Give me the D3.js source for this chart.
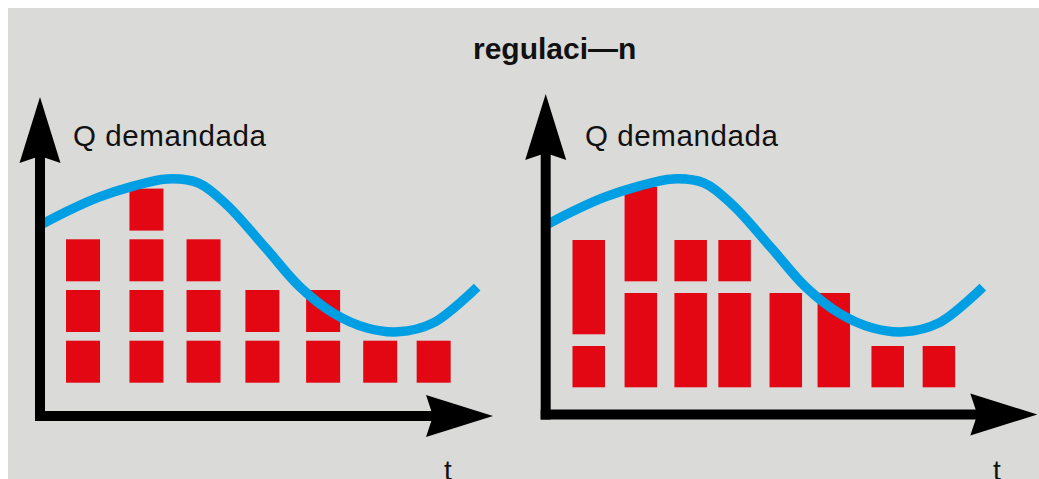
<!DOCTYPE html>
<html>
<head>
<meta charset="utf-8">
<script src="https://cdn.jsdelivr.net/npm/d3@7"></script>
<style>
  html, body { margin: 0; padding: 0; background: #ffffff; }
  svg { display: block; }
  text { font-family: "Liberation Sans", Arial, Helvetica, sans-serif; fill: #111; }
</style>
</head>
<body>
<svg id="chart" width="1039" height="479"></svg>
<script>
// ---- data ----
const title = "regulaci\u2014n";
const yLabel = "Q demandada";
const xLabel = "t";

// demand curve (t, Q) shared by both panels
const demandT = [0.05, 0.6, 1.3, 2.0, 2.8, 3.5, 4.13, 5.0, 5.74, 6.47, 7.22, 7.9, 8.68, 9.65];
const demandQ = [60, 64, 68.4, 71.6, 74.1, 72.8, 65.9, 52.2, 40.3, 32.2, 27.5, 26.3, 29.1, 40.3];

// left panel: one block per unit
const leftColumnT = [0.95, 2.35, 3.61, 4.91, 6.25, 7.51, 8.69];
const leftSegments = [[1, 1, 1], [1, 1, 1, 1], [1, 1, 1], [1, 1], [1, 1], [1], [1]];

// right panel: grouped lots per column
const rightColumnT = [0.95, 2.10, 3.20, 4.17, 5.30, 6.36, 7.55, 8.68];
const rightSegments = [[1, 2], [2, 2], [2, 1], [2, 1], [2], [2], [1], [1]];

// ---- layout ----
const svg = d3.select("#chart");
const RED = "#e30613", BLUE = "#009fe3", BG = "#dadad8";

svg.append("rect").attr("x", 8).attr("y", 8).attr("width", 1031).attr("height", 471).attr("fill", BG);

svg.append("text")
  .attr("x", 473).attr("y", 59)
  .attr("font-size", 30).attr("font-weight", "bold")
  .text(title);

const panels = [
  { origin: 40, axisY: 416, yTip: 97, xTip: 493, base: 382.7, step: 50.7, gap: 8.7, blockW: 34,
    labelX: 73, labelY: 146, tX: 448, cols: leftColumnT, segs: leftSegments },
  { origin: 545.7, axisY: 414.5, yTip: 94, xTip: 1037.3, base: 387.3, step: 53, gap: 11.7, blockW: 32.5,
    labelX: 585, labelY: 146, tX: 997, cols: rightColumnT, segs: rightSegments }
];

const qScale = d3.scaleLinear().domain([0, 100]).range([416, 96]);

panels.forEach(p => {
  const g = svg.append("g");
  const x = d3.scaleLinear().domain([0, 10]).range([p.origin, p.origin + 453]);
  const u = d3.scaleLinear().domain([0, 1]).range([p.base, p.base - p.step]);

  // stacked blocks
  const blocks = [];
  p.segs.forEach((segs, i) => {
    let s = 0;
    segs.forEach(n => { blocks.push({ t: p.cols[i], s, n }); s += n; });
  });
  g.selectAll("rect.block").data(blocks).join("rect")
    .attr("class", "block")
    .attr("x", d => x(d.t) - p.blockW / 2)
    .attr("width", p.blockW)
    .attr("y", d => u(d.s + d.n) + p.gap)
    .attr("height", d => u(d.s) - u(d.s + d.n) - p.gap)
    .attr("fill", RED);

  // demand curve
  const pts = demandT.map((t, i) => [t, demandQ[i]]);
  g.append("path")
    .datum(pts)
    .attr("d", d3.line().x(d => x(d[0])).y(d => qScale(d[1])).curve(d3.curveCatmullRom.alpha(0.5)))
    .attr("fill", "none").attr("stroke", BLUE).attr("stroke-width", 9.5).attr("stroke-linecap", "butt");

  // axes with notched arrowheads
  const cx = p.origin, cy = p.axisY, sw = 10;
  g.append("rect").attr("x", cx - sw / 2).attr("y", p.yTip + 57)
    .attr("width", sw).attr("height", cy + sw / 2 - (p.yTip + 57)).attr("fill", "#000");
  g.append("rect").attr("x", cx - sw / 2).attr("y", cy - sw / 2)
    .attr("width", p.xTip - 58 - (cx - sw / 2)).attr("height", sw).attr("fill", "#000");
  g.append("path").attr("fill", "#000")
    .attr("d", `M${cx},${p.yTip} L${cx + 20.5},${p.yTip + 66} L${cx},${p.yTip + 59} L${cx - 20.5},${p.yTip + 66} Z`);
  g.append("path").attr("fill", "#000")
    .attr("d", `M${p.xTip},${cy} L${p.xTip - 67},${cy - 21} L${p.xTip - 60},${cy} L${p.xTip - 67},${cy + 21} Z`);

  g.append("text").attr("x", p.labelX).attr("y", p.labelY)
    .attr("font-size", 29.5).attr("letter-spacing", 0.6).text(yLabel);
  g.append("text").attr("x", p.tX).attr("y", 480).attr("font-size", 28).attr("text-anchor", "middle").text(xLabel);
});
</script>
</body>
</html>
